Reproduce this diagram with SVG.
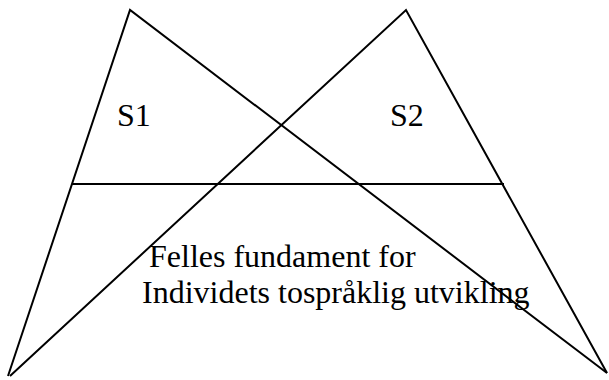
<svg xmlns="http://www.w3.org/2000/svg" width="609" height="380" viewBox="0 0 609 380">
<style>
.ln{fill:none;stroke:#000;stroke-width:2;stroke-linejoin:miter}
.t{font-family:"Liberation Serif","Times New Roman",serif;font-size:32px;fill:#000}
</style>
<rect width="609" height="380" fill="#fff"/>
<g id="triangle-s1">
<polyline class="ln" points="8,376 130,10 607,373"/>
<text class="t" x="117" y="126">S1</text>
</g>
<g id="triangle-s2">
<polyline class="ln" points="10,376 406,10 607,373"/>
<text class="t" x="390" y="126">S2</text>
</g>
<g id="connectors">
<line class="ln" x1="72" y1="184" x2="504" y2="184"/>
</g>
<g id="fundament">
<text class="t" x="149" y="267">Felles fundament for</text>
<text class="t" x="142" y="303">Individets tospråklig utvikling</text>
</g>
</svg>
